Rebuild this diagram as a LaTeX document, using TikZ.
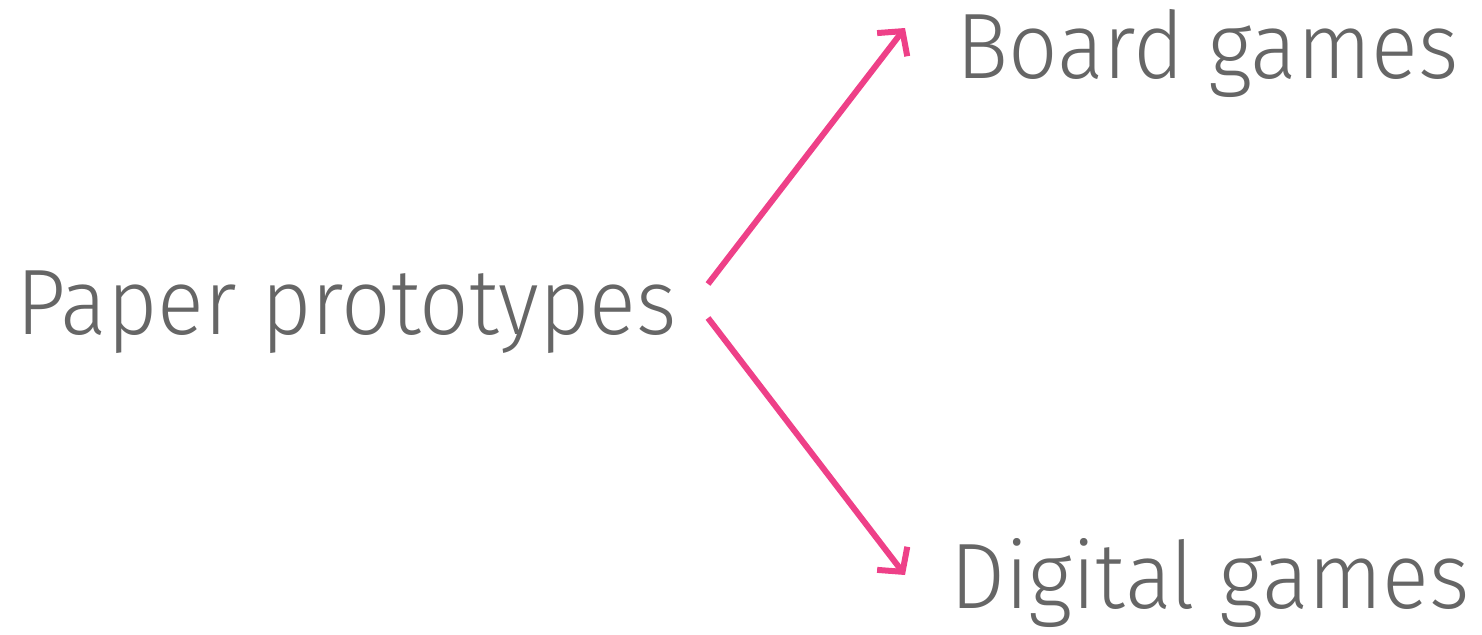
\documentclass[tikz,border=0pt]{standalone}
\usepackage{fontspec}
\setmainfont{Fira Sans Light}[FakeStretch=0.935]
\usetikzlibrary{arrows.meta}
\definecolor{txtgray}{HTML}{666666}
\definecolor{arrowpink}{HTML}{EE4088}
\begin{document}
\begin{tikzpicture}[x=1pt,y=-1pt,
  label/.style={inner sep=0pt, text=txtgray, font=\fontsize{93}{93}\selectfont},
  link/.style={draw=arrowpink, line width=6pt,
    -{Straight Barb[length=17pt,width=38pt,line width=6pt]}}]
  \useasboundingbox (0,0) rectangle (1482,634);
  \node[label, anchor=base west] (pp) at (16,334) {Paper prototypes};
  \node[label, anchor=base west] (bg) at (956,78) {Board games};
  \node[label, anchor=base west] (dg) at (950,608) {Digital games};
  % arrow ends sit just outside the labels
  \coordinate (ppup) at (708,284);
  \coordinate (ppdown) at (708,318);
  \coordinate (bgin) at (905,28);
  \coordinate (dgin) at (905,575);
  \draw[link] (ppup) -- (bgin);
  \draw[link] (ppdown) -- (dgin);
\end{tikzpicture}
\end{document}
